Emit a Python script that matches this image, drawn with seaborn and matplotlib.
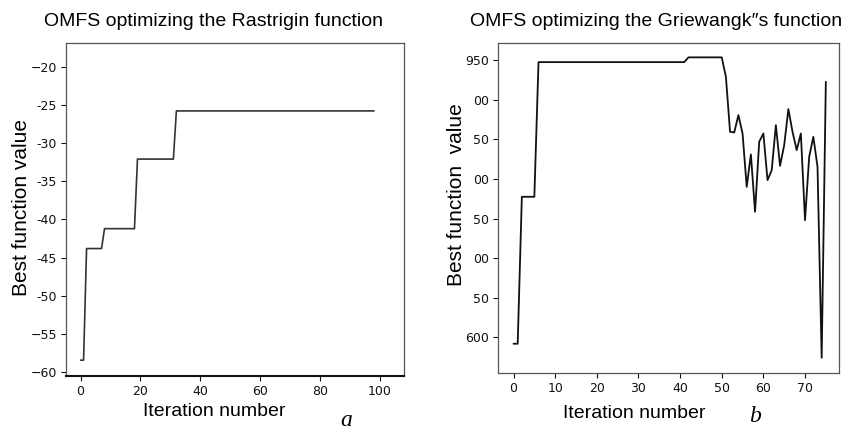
import numpy as np
import pandas as pd
import matplotlib
matplotlib.use("Agg")
import matplotlib.pyplot as plt
import seaborn as sns

# ---- data: Rastrigin (panel a) ----
rast_iter = list(range(0, 99))
rast_vals = ([-58.4] * 2 + [-43.8] * 6 + [-41.2] * 11 + [-32.1] * 13 + [-25.8] * 67)

# ---- data: Griewangk (panel b) ----
grie_iter = list(range(0, 76))
grie_vals = ([592, 592] + [777.5] * 4 + [947.5] * 36 + [953.5] * 9 +
             [929, 859.5, 858.7, 880.6, 857.4, 790, 831, 758.6, 847, 857.4,
              798.5, 811, 868, 816.6, 842.7, 888.2, 859.5, 836.4, 857.4, 748,
              828, 853.2, 815.4, 574.3, 922.7])

rast_xticks = [0, 20, 40, 60, 80, 100]
rast_yticks = [-60, -55, -50, -45, -40, -35, -30, -25, -20]
rast_ylabels = ['\u221260', '\u221255', '-50', '-45', '-40', '-35', '-30', '-25', '\u221220']
grie_xticks = [0, 10, 20, 30, 40, 50, 60, 70]
grie_yticks = [600, 650, 700, 750, 800, 850, 900, 950]
grie_ylabels = ['600', '50', '00', '50', '00', '50', '00', '950']

titles = ["OMFS optimizing the Rastrigin function", "OMFS optimizing the Griewangk\u2033s function"]

sns.set_theme(style="white")
narrow = ['Liberation Sans', 'DejaVu Sans']
plt.rcParams['font.family'] = ['DejaVu Sans']
plt.rcParams['text.color'] = 'black'

fig = plt.figure(figsize=(8.45, 4.33), dpi=100)
ax1 = fig.add_axes([0.078, 0.132, 0.400, 0.769])
ax2 = fig.add_axes([0.589, 0.139, 0.4036, 0.762])

df1 = pd.DataFrame({"it": rast_iter, "val": rast_vals})
df2 = pd.DataFrame({"it": grie_iter, "val": grie_vals})
sns.lineplot(data=df1, x="it", y="val", ax=ax1, color="#333333", linewidth=1.2)
sns.lineplot(data=df2, x="it", y="val", ax=ax2, color="#111111", linewidth=1.3)

ax1.set_xlim(-4.9, 108)
ax1.set_ylim(-60.45, -16.9)
ax1.set_xticks(rast_xticks)
ax1.set_yticks(rast_yticks)
ax1.set_yticklabels(rast_ylabels)

ax2.set_xlim(-3.8, 78.1)
ax2.set_ylim(555.3, 971.8)
ax2.set_xticks(grie_xticks)
ax2.set_yticks(grie_yticks)
ax2.set_yticklabels(grie_ylabels)

for ax in (ax1, ax2):
    ax.set_xlabel("")
    ax.set_ylabel("")
    ax.tick_params(axis='both', which='both', direction='out', length=3.5, width=0.8,
                   labelsize=9, colors='#111111', bottom=True, left=True, pad=3)
    for s in ax.spines.values():
        s.set_color('#555555')
        s.set_linewidth(0.9)
ax1.spines['bottom'].set_color('#111111')
ax1.spines['bottom'].set_linewidth(1.5)

# titles
fig.text(214 / 845, 1 - 22 / 433, titles[0], ha='center', va='center', fontsize=14, family=narrow)
fig.text(656 / 845, 1 - 22 / 433, titles[1], ha='center', va='center', fontsize=14, family=narrow)

# axis labels
fig.text(22 / 845, 1 - 207 / 433, "Best function value", rotation=90, ha='center', va='center',
         fontsize=15, family=narrow)
fig.text(457 / 845, 1 - 195 / 433, "Best function  value", rotation=90, ha='center', va='center',
         fontsize=15, family=narrow)
fig.text(214 / 845, 1 - 412 / 433, "Iteration number", ha='center', va='center', fontsize=14, family=narrow)
fig.text(634 / 845, 1 - 413 / 433, "Iteration number", ha='center', va='center', fontsize=14, family=narrow)

# panel letters
fig.text(346 / 845, 1 - 421 / 433, "a", ha='center', va='center', fontsize=17, style='italic',
         family=['Liberation Serif', 'DejaVu Serif'])
fig.text(755 / 845, 1 - 416 / 433, "b", ha='center', va='center', fontsize=17, style='italic',
         family=['Liberation Serif', 'DejaVu Serif'])

fig.savefig("out.png", dpi=100)
